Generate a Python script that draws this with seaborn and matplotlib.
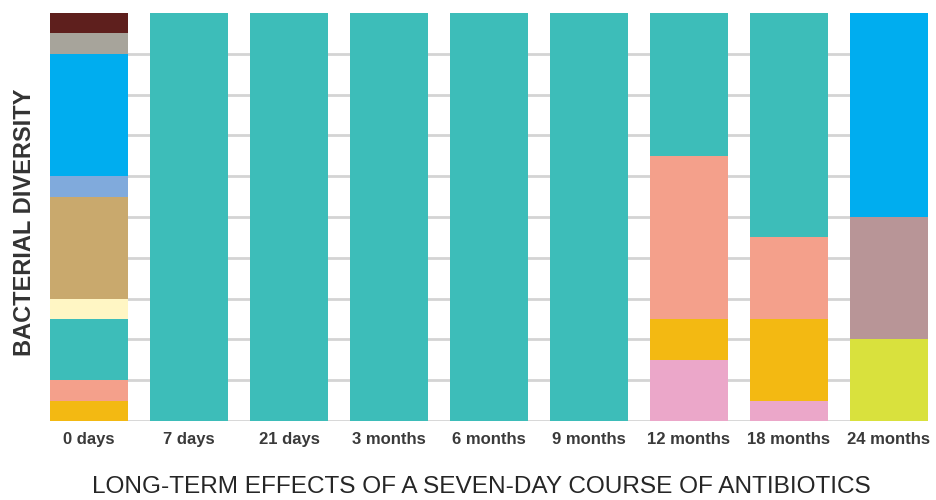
import matplotlib
matplotlib.use("Agg")
import matplotlib.pyplot as plt
import seaborn as sns
import pandas as pd

# Sampling points after the course of antibiotics
categories = ["0 days", "7 days", "21 days", "3 months", "6 months",
              "9 months", "12 months", "18 months", "24 months"]

# Stacked composition of each sample, listed bottom to top (group, share %)
stack_0d = [("amber", 5), ("salmon", 5), ("teal", 15), ("cream", 5),
            ("tan", 25), ("periwinkle", 5), ("sky", 30), ("stone", 5),
            ("maroon", 5)]
stack_7d = [("teal", 100)]
stack_21d = [("teal", 100)]
stack_3m = [("teal", 100)]
stack_6m = [("teal", 100)]
stack_9m = [("teal", 100)]
stack_12m = [("pink", 15), ("amber", 10), ("salmon", 40), ("teal", 35)]
stack_18m = [("pink", 5), ("amber", 20), ("salmon", 20), ("teal", 55)]
stack_24m = [("lime", 20), ("mauve", 30), ("sky", 50)]

stacks = [stack_0d, stack_7d, stack_21d, stack_3m, stack_6m,
          stack_9m, stack_12m, stack_18m, stack_24m]

group_colors = {
    "teal": "#3dbdb9",
    "amber": "#f3b912",
    "salmon": "#f4a08b",
    "cream": "#fff6c4",
    "tan": "#c9a96d",
    "periwinkle": "#80aadc",
    "sky": "#00adef",
    "stone": "#a7a49b",
    "maroon": "#5e1f1d",
    "pink": "#eba7c9",
    "mauve": "#b89597",
    "lime": "#d9e13d",
}

# Long table: one row per segment with its cumulative top
rows = []
for cat, stack in zip(categories, stacks):
    top = 0
    for level, (group, value) in enumerate(stack):
        top += value
        rows.append({"category": cat, "level": level, "group": group,
                     "value": value, "top": top})
df = pd.DataFrame(rows)

sns.set_theme(style="white")
plt.rcParams["font.family"] = ["Liberation Sans", "DejaVu Sans"]

fig = plt.figure(figsize=(9.36, 5.0), dpi=100)
ax = fig.add_axes([50 / 936, 1 - 421 / 500, 878 / 936, 408 / 500])

# Draw the highest cumulative layer first, lower layers paint over it
for level in sorted(df["level"].unique(), reverse=True):
    sub = df[df["level"] == level]
    palette = {c: group_colors[g] for c, g in zip(sub["category"], sub["group"])}
    sns.barplot(data=sub, x="category", y="top", hue="category",
                order=categories, hue_order=list(sub["category"]),
                palette=palette, width=0.78, saturation=1, dodge=False,
                legend=False, linewidth=0, ax=ax, zorder=3)

ax.set_xlim(-0.39, len(categories) - 1 + 0.39)
ax.set_ylim(0, 100)
ax.set_yticks(range(0, 100, 10))
ax.yaxis.grid(True, color="#d4d4d4", linewidth=2, zorder=0)
ax.set_axisbelow(True)
ax.tick_params(axis="y", left=False, labelleft=False)
ax.tick_params(axis="x", bottom=False, pad=2)
for lbl in ax.get_xticklabels():
    lbl.set_fontsize(12)
    lbl.set_fontweight("bold")
    lbl.set_color("#3a3a3a")
for s in ax.spines.values():
    s.set_visible(False)

ax.set_xlabel("")
ax.set_ylabel("")
fig.text(481 / 936, 1 - 487 / 500, "LONG-TERM EFFECTS OF A SEVEN-DAY COURSE OF ANTIBIOTICS",
         ha="center", va="center", fontsize=17.6, color="#262626")
fig.text(0.026, 1 - 222 / 500, "BACTERIAL DIVERSITY", rotation=90,
         ha="center", va="center", fontsize=17, fontweight="bold",
         color="#333333")

fig.savefig("out.png", dpi=100)
